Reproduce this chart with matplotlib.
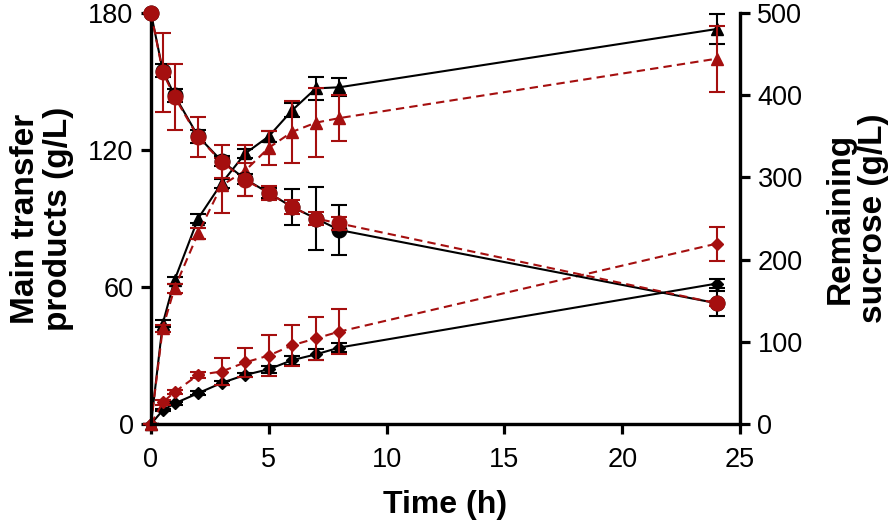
import numpy as np
import matplotlib
matplotlib.use("Agg")
import matplotlib.pyplot as plt

plt.rcParams['font.family'] = ['Liberation Sans', 'DejaVu Sans']

# Sampling times (h)
time = [0, 0.5, 1, 2, 3, 4, 5, 6, 7, 8, 24]

# Main transfer products, triangles (g/L, left axis)
tri_black = [0, 44, 63, 90, 105.5, 118.5, 126, 137.5, 147, 147.5, 173]
tri_black_err = [0, 1.5, 1.5, 2, 2, 2, 2.5, 3, 5, 4, 6.5]
tri_red = [0, 42, 59.5, 83.5, 104.5, 111, 121, 128, 132, 134, 160]
tri_red_err = [0, 1.5, 2, 2.5, 12, 11, 7.5, 13.5, 15, 10, 14.5]

# Main transfer products, diamonds (g/L, left axis)
dia_black = [0, 6, 9, 13.5, 18, 21.5, 24, 28, 30.5, 33.5, 61.5]
dia_black_err = [0, 0.5, 0.5, 1, 1, 1, 1.5, 2, 2.5, 2, 2]
dia_red = [0, 9.5, 14, 21.5, 23, 27, 30, 34.5, 37.5, 40.5, 79]
dia_red_err = [0, 1, 1, 1.5, 6, 6.5, 9, 9, 9.5, 10, 7.5]

# Remaining sucrose, circles (g/L, right axis)
suc_black = [500, 430, 400, 350, 320, 298, 281, 264, 250, 236, 147]
suc_black_err = [0, 8, 8, 8, 6, 6, 6, 22, 38, 30, 15]
suc_red = [500, 428, 398, 349, 319, 297, 281, 264, 250, 244, 147]
suc_red_err = [0, 48, 40, 24, 20, 20, 8, 8, 8, 8, 3]

dark_red = "#a50f0f"

fig = plt.figure(figsize=(8.96, 5.22), dpi=100)
ax = fig.add_axes([0.1685, 0.1877, 0.6575, 0.7873])
ax2 = ax.twinx()

black_kw = dict(color="black", linestyle="-", linewidth=1.5, elinewidth=1.5,
                capsize=6, capthick=1.5, clip_on=False)
red_kw = dict(color=dark_red, linestyle=(0, (4, 2.5)), linewidth=1.5, elinewidth=1.5,
              capsize=6, capthick=1.5, clip_on=False)

# Left-axis series
ax.errorbar(time, tri_black, yerr=tri_black_err, marker="^", markersize=8.5, zorder=3, **black_kw)
ax.errorbar(time, dia_black, yerr=dia_black_err, marker="D", markersize=6.5, zorder=3, **black_kw)
ax.errorbar(time, tri_red, yerr=tri_red_err, marker="^", markersize=8.5, zorder=4, **red_kw)
ax.errorbar(time, dia_red, yerr=dia_red_err, marker="D", markersize=6.5, zorder=4, **red_kw)

# Right-axis series
ax2.errorbar(time, suc_black, yerr=suc_black_err, marker="o", markersize=10.5, zorder=3, **black_kw)
ax2.errorbar(time, suc_red, yerr=suc_red_err, marker="o", markersize=10.5, zorder=4, **red_kw)

ax.set_xlim(0, 25)
ax.set_ylim(0, 180)
ax2.set_ylim(0, 500)
ax.set_xticks([0, 5, 10, 15, 20, 25])
ax.set_yticks([0, 60, 120, 180])
ax2.set_yticks([0, 100, 200, 300, 400, 500])

for a in (ax, ax2):
    a.spines["top"].set_visible(False)
    for s in ("left", "right", "bottom"):
        a.spines[s].set_linewidth(2.3)
    a.tick_params(width=2.3, length=7.5, labelsize=19.5, pad=5)
ax.tick_params(axis="x", pad=9)

ax.set_xlabel("Time (h)", fontsize=23, fontweight="bold", labelpad=12)
ax.set_ylabel("Main transfer\nproducts (g/L)", fontsize=24, fontweight="bold", labelpad=10,
              linespacing=1.1)
ax2.set_ylabel("Remaining\nsucrose (g/L)", fontsize=24, fontweight="bold", labelpad=16,
               rotation=90, linespacing=1.1)

fig.savefig("out.png", dpi=100)
